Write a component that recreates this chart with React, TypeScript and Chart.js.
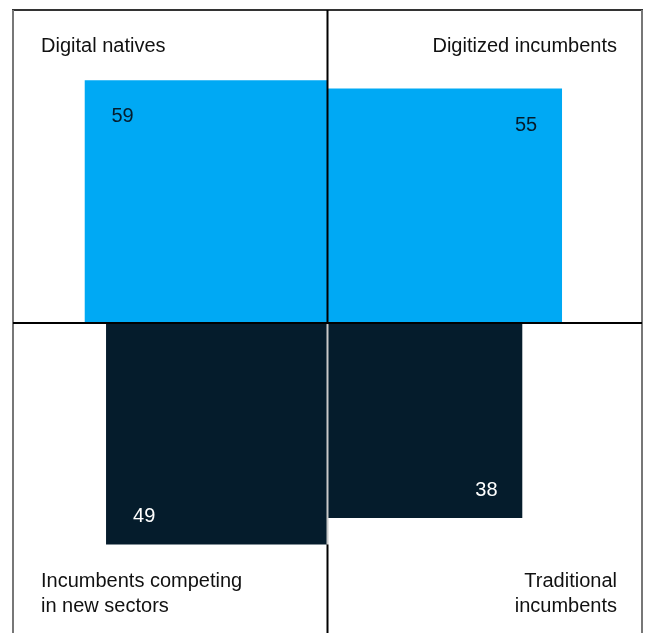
import React, { useEffect, useRef } from "react";
import { Chart, registerables } from "chart.js";

Chart.register(...registerables);

// four segments, square area proportional to share (%)
const categories = [
  ["Digital natives"],
  ["Digitized incumbents"],
  ["Incumbents competing", "in new sectors"],
  ["Traditional", "incumbents"],
];
const values = [59, 55, 49, 38];

// quadrant of each segment: [x direction, y direction]
const quadrants = [
  [-1, 1],
  [1, 1],
  [-1, -1],
  [1, -1],
];

const CYAN = "#00A9F4";
const NAVY = "#051C2C";
const FONT = '20px "Liberation Sans", Arial, sans-serif';

const quadPlugin = {
  id: "quadFrame",
  afterDatasetsDraw(chart: any) {
    const { ctx, chartArea: a, scales } = chart;
    const x = scales.x;
    const y = scales.y;
    const cx = x.getPixelForValue(0);
    const cy = y.getPixelForValue(0);
    ctx.save();

    // frame
    ctx.lineWidth = 2;
    ctx.strokeStyle = "#333";
    ctx.beginPath();
    ctx.moveTo(a.left - 1, a.top);
    ctx.lineTo(a.right + 1, a.top);
    ctx.stroke();
    ctx.strokeStyle = "#777";
    ctx.beginPath();
    ctx.moveTo(a.left, a.top);
    ctx.lineTo(a.left, a.bottom + 5);
    ctx.moveTo(a.right, a.top);
    ctx.lineTo(a.right, a.bottom + 5);
    ctx.stroke();

    // cross
    ctx.strokeStyle = "#000";
    ctx.beginPath();
    ctx.moveTo(a.left, cy);
    ctx.lineTo(a.right, cy);
    ctx.moveTo(cx, a.top);
    ctx.lineTo(cx, cy);
    ctx.stroke();
    const lowLeft = y.getPixelForValue(-Math.sqrt(values[2]));
    ctx.strokeStyle = "#c9c9c9";
    ctx.beginPath();
    ctx.moveTo(cx, cy + 1);
    ctx.lineTo(cx, lowLeft);
    ctx.stroke();
    ctx.strokeStyle = "#000";
    ctx.beginPath();
    ctx.moveTo(cx, lowLeft);
    ctx.lineTo(cx, a.bottom + 5);
    ctx.stroke();

    ctx.font = FONT;
    ctx.textBaseline = "alphabetic";

    // quadrant names
    categories.forEach((lines, i) => {
      const [dx, dy] = quadrants[i];
      ctx.fillStyle = "#111";
      ctx.textAlign = dx < 0 ? "left" : "right";
      const tx = dx < 0 ? a.left + 28 : a.right - 25;
      lines.forEach((line, j) => {
        const ty = dy > 0 ? a.top + 42 + j * 25 : a.bottom - 46 + j * 25;
        ctx.fillText(line, tx, ty);
      });
    });

    // values inside squares
    values.forEach((v, i) => {
      const [dx, dy] = quadrants[i];
      const s = Math.sqrt(v);
      const ex = x.getPixelForValue(dx * s);
      const ey = y.getPixelForValue(dy * s);
      ctx.fillStyle = dy > 0 ? NAVY : "#fff";
      ctx.textAlign = dx < 0 ? "left" : "right";
      const tx = dx < 0 ? ex + 27 : ex - 25;
      const ty = dy > 0 ? ey + 42 : ey - 22;
      ctx.fillText(String(v), tx, ty);
    });

    ctx.restore();
  },
};

const App = () => {
  const canvasRef = useRef<HTMLCanvasElement>(null);

  useEffect(() => {
    if (!canvasRef.current) return;
    const chart = new Chart(canvasRef.current, {
      type: "line",
      data: {
        datasets: values.map((v, i) => {
          const [dx, dy] = quadrants[i];
          const s = Math.sqrt(v);
          return {
            label: categories[i].join(" "),
            data: [
              { x: dx * s, y: dy * s },
              { x: 0, y: dy * s },
            ],
            fill: "origin",
            backgroundColor: dy > 0 ? CYAN : NAVY,
            borderWidth: 0,
            pointRadius: 0,
            tension: 0,
          };
        }),
      },
      options: {
        animation: false,
        responsive: false,
        layout: { padding: { left: 13, right: 8, top: 10, bottom: 0 } },
        plugins: {
          legend: { display: false },
          tooltip: { enabled: false },
        },
        scales: {
          x: { type: "linear", min: -9.94, max: 9.94, display: false },
          y: { type: "linear", min: -9.8, max: 9.9, display: false },
        },
      },
      plugins: [quadPlugin],
    });
    return () => {
      chart.destroy();
    };
  }, []);

  return (
    <div style={{ position: "absolute", left: 0, top: 0, width: 650, height: 633 }}>
      <canvas ref={canvasRef} width={650} height={633} />
    </div>
  );
};

export default App;
